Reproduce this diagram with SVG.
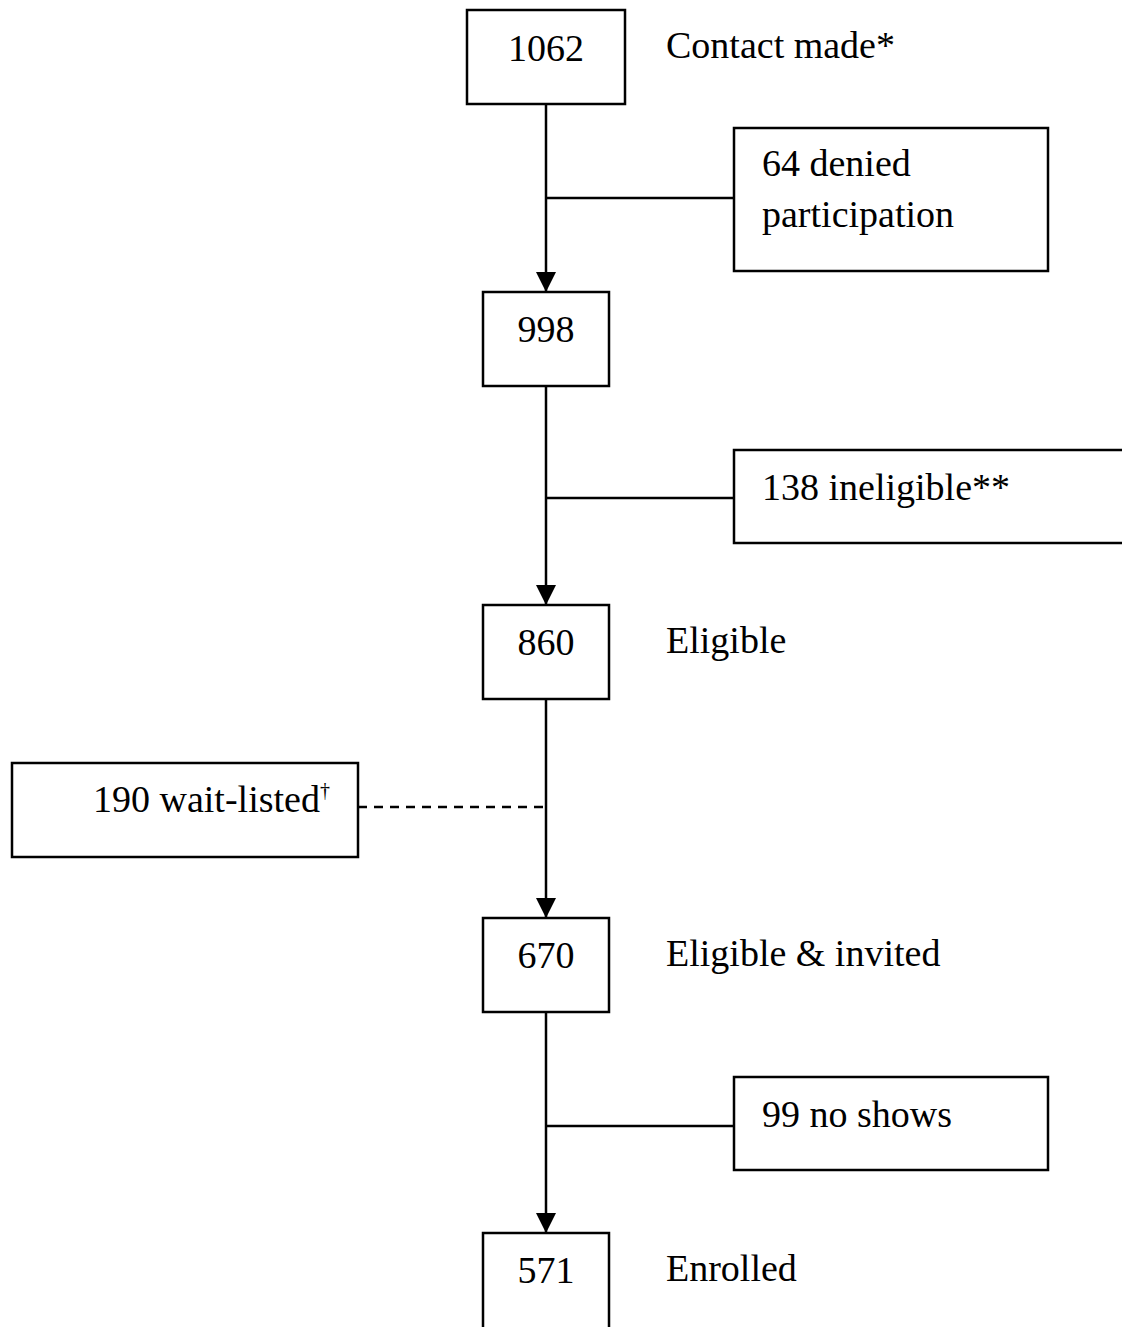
<svg xmlns="http://www.w3.org/2000/svg" width="1122" height="1327" viewBox="0 0 1122 1327">
<defs>
<style>
rect{fill:#fff;stroke:#000;stroke-width:2.5}
text{font-family:"Liberation Serif","Times New Roman",serif;font-size:38px;fill:#000}
.c{text-anchor:middle}
.ln{stroke:#000;stroke-width:2.5;fill:none}
.dash{stroke-dasharray:9 7}
</style>
<marker id="ah" viewBox="0 0 20 20" refX="20" refY="10" markerWidth="20" markerHeight="20" markerUnits="userSpaceOnUse" orient="auto">
<path d="M0,0 L20,10 L0,20 Z" fill="#000"/>
</marker>
</defs>
<g id="connectors">
<line class="ln" x1="546" y1="104" x2="546" y2="292" marker-end="url(#ah)"/>
<line class="ln" x1="546" y1="198" x2="734" y2="198"/>
<line class="ln" x1="546" y1="386" x2="546" y2="605" marker-end="url(#ah)"/>
<line class="ln" x1="546" y1="498" x2="734" y2="498"/>
<line class="ln" x1="546" y1="699" x2="546" y2="918" marker-end="url(#ah)"/>
<line class="ln dash" x1="358" y1="807" x2="546" y2="807"/>
<line class="ln" x1="546" y1="1012" x2="546" y2="1233" marker-end="url(#ah)"/>
<line class="ln" x1="546" y1="1126" x2="734" y2="1126"/>
</g>
<g id="n1062"><rect x="467" y="10" width="158" height="94"/><text class="c" x="546" y="61">1062</text></g>
<g id="lbl-contact"><text x="666" y="58">Contact made*</text></g>
<g id="n64"><rect x="734" y="128" width="314" height="143"/><text x="762" y="176">64 denied</text><text x="762" y="227">participation</text></g>
<g id="n998"><rect x="483" y="292" width="126" height="94"/><text class="c" x="546" y="342">998</text></g>
<g id="n138"><rect x="734" y="450" width="400" height="93"/><text x="762" y="500">138 ineligible**</text></g>
<g id="n860"><rect x="483" y="605" width="126" height="94"/><text class="c" x="546" y="655">860</text></g>
<g id="lbl-eligible"><text x="666" y="653">Eligible</text></g>
<g id="n190"><rect x="12" y="763" width="346" height="94"/><text x="93" y="812">190 wait-listed<tspan font-size="20" dy="-15">†</tspan></text></g>
<g id="n670"><rect x="483" y="918" width="126" height="94"/><text class="c" x="546" y="968">670</text></g>
<g id="lbl-invited"><text x="666" y="966">Eligible &amp; invited</text></g>
<g id="n99"><rect x="734" y="1077" width="314" height="93"/><text x="762" y="1127">99 no shows</text></g>
<g id="n571"><rect x="483" y="1233" width="126" height="110"/><text class="c" x="546" y="1283">571</text></g>
<g id="lbl-enrolled"><text x="666" y="1281">Enrolled</text></g>
</svg>
